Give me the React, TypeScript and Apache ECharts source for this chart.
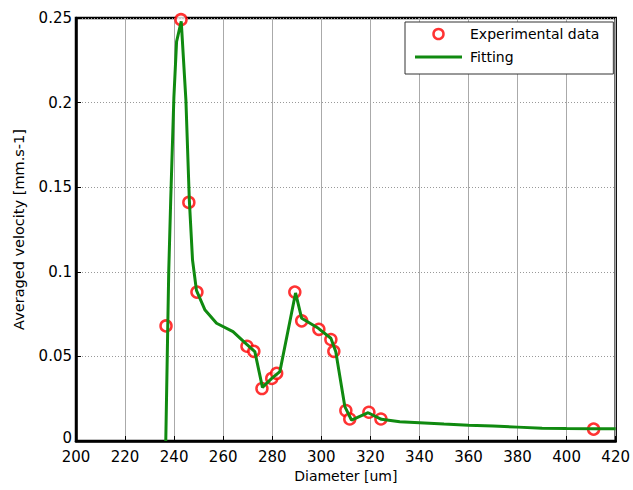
import React, { useEffect, useRef } from "react";
import * as echarts from "echarts";

const expX = [236.7, 242.8, 246.0, 249.3, 269.7, 272.5, 275.8, 279.8, 281.8, 289.2, 292.0, 299.0, 303.9, 305.1, 310.0, 311.6, 319.4, 324.3, 411.0];
const expY = [0.068, 0.249, 0.141, 0.088, 0.056, 0.053, 0.031, 0.037, 0.040, 0.088, 0.071, 0.066, 0.060, 0.053, 0.018, 0.013, 0.017, 0.013, 0.007];

const fitX = [236.6, 237.2, 237.8, 238.6, 239.9, 241.0, 242.9, 244.8, 246.2, 247.5, 249.1, 252.6, 257.3, 264.0, 269.5, 272.9, 276.0, 279.8, 283.1, 289.5, 292.0, 298.8, 303.9, 305.9, 309.6, 312.3, 319.1, 324.5, 332, 340, 350, 360, 370, 380, 390, 400, 411, 420];
const fitY = [0, 0.05, 0.10, 0.142, 0.203, 0.236, 0.248, 0.2015, 0.1424, 0.107, 0.089, 0.0774, 0.0696, 0.0646, 0.0572, 0.0528, 0.0317, 0.037, 0.041, 0.0875, 0.0725, 0.0666, 0.0607, 0.0528, 0.0203, 0.0124, 0.0167, 0.0128, 0.0114, 0.0108, 0.0100, 0.0093, 0.0088, 0.0082, 0.0076, 0.0074, 0.0073, 0.0072];

const xTicks = [200, 220, 240, 260, 280, 300, 320, 340, 360, 380, 400, 420];
const yTicks = [0, 0.05, 0.1, 0.15, 0.2, 0.25];

export default function App() {
  const ref = useRef<HTMLDivElement>(null);
  useEffect(() => {
    if (!ref.current) return;
    const chart = echarts.init(ref.current, null, { renderer: "svg" });
    const font = "DejaVu Sans, Arial, sans-serif";
    chart.setOption({
      animation: false,
      backgroundColor: "#ffffff",
      textStyle: { fontFamily: font },
      grid: { left: 76, right: 16, top: 18, bottom: 49, show: true, borderColor: "#000", borderWidth: 2.5, backgroundColor: "transparent" },
      legend: {
        orient: "vertical",
        left: 405,
        top: 22,
        padding: [5, 14, 10, 10],
        itemGap: 9,
        itemWidth: 47,
        itemHeight: 10,
        backgroundColor: "#fff",
        borderColor: "#333",
        borderWidth: 1,
        borderRadius: 0,
        textStyle: { fontSize: 14, color: "#000", fontFamily: font, padding: [0, 0, 0, 3] },
        data: [
          { name: "Experimental data", icon: "circle", itemStyle: { color: "#fff", borderColor: "#ff0000", borderWidth: 2.5 } },
          { name: "Fitting", icon: "path://M0 0 H47 V3 H0 Z", itemStyle: { color: "#108a10" } },
        ],
      },
      xAxis: {
        type: "value",
        min: 200,
        max: 420,
        interval: 20,
        name: "Diameter [um]",
        nameLocation: "middle",
        nameGap: 27,
        nameTextStyle: { fontSize: 14, color: "#000", fontFamily: font },
        axisLine: { show: true, lineStyle: { color: "#000", width: 2.5 } },
        axisTick: { show: true, inside: true, length: 5, lineStyle: { color: "#000" } },
        axisLabel: { fontSize: 15, color: "#000", margin: 8, fontFamily: font, formatter: (v: number) => (xTicks.includes(v) ? String(v) : "") },
        splitLine: { show: true, lineStyle: { color: "#aaa", width: 1, type: "solid" } },
      },
      yAxis: {
        type: "value",
        min: 0,
        max: 0.25,
        interval: 0.05,
        name: "Averaged velocity [mm.s-1]",
        nameLocation: "middle",
        nameGap: 50,
        nameTextStyle: { fontSize: 14.5, color: "#000", fontFamily: font },
        axisLine: { show: true, lineStyle: { color: "#000", width: 2.5 } },
        axisTick: { show: true, inside: true, length: 5, lineStyle: { color: "#000" } },
        axisLabel: {
          fontSize: 15,
          color: "#000",
          margin: 4,
          fontFamily: font,
          formatter: (v: number) => {
            const t = yTicks.find((k) => Math.abs(k - v) < 1e-9);
            if (t === undefined) return "";
            if (t === 0) return "{z|0}";
            return String(+t.toFixed(2));
          },
          rich: { z: { fontSize: 15, fontFamily: font, color: "#000", padding: [0, 0, 6, 0] } },
        },
        splitLine: { show: true, lineStyle: { color: "#999", width: 1, type: [1, 2] } },
      },
      series: [
        {
          name: "Experimental data",
          type: "scatter",
          data: expX.map((x, i) => [x, expY[i]]),
          symbol: "circle",
          symbolSize: 11,
          itemStyle: { color: "#ffffff", borderColor: "#ff0000", borderWidth: 2.5 },
          z: 2,
        },
        {
          name: "Fitting",
          type: "line",
          data: fitX.map((x, i) => [x, fitY[i]]),
          symbol: "none",
          smooth: false,
          lineStyle: { color: "#108a10", width: 3 },
          itemStyle: { color: "#108a10" },
          z: 3,
        },
      ],
    });
    return () => chart.dispose();
  }, []);
  return <div ref={ref} style={{ width: 633, height: 490, position: "absolute", left: 0, top: 0 }} />;
}
